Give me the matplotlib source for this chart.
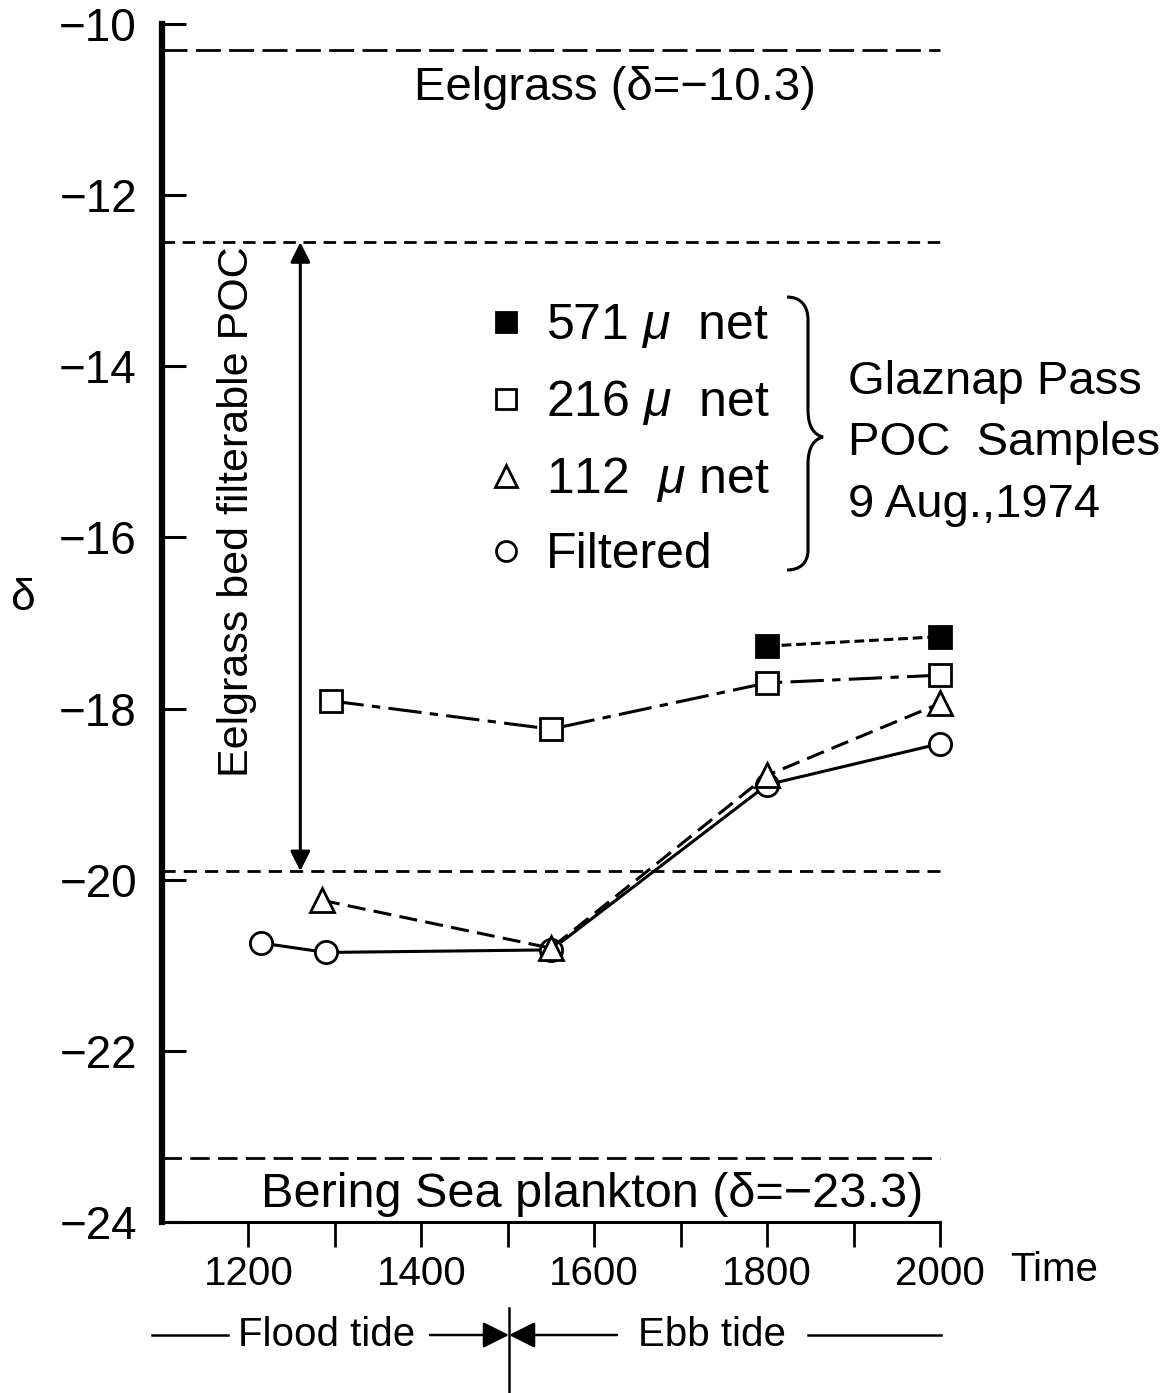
import matplotlib
matplotlib.use("Agg")
import matplotlib.pyplot as plt
from matplotlib.path import Path
from matplotlib.patches import PathPatch

plt.rcParams['font.family'] = ['Liberation Sans', 'DejaVu Sans']
plt.rcParams['mathtext.fontset'] = 'custom'
plt.rcParams['mathtext.rm'] = 'Liberation Sans'
plt.rcParams['mathtext.it'] = 'Liberation Sans:italic'
plt.rcParams['lines.scale_dashes'] = False

# ---- data (time of day, delta 13C) ----
time_571 = [1800, 2000]
delta_571 = [-17.27, -17.16]
time_216 = [1295, 1550, 1800, 2000]
delta_216 = [-17.91, -18.24, -17.70, -17.61]
time_112 = [1285, 1550, 1800, 2000]
delta_112 = [-20.24, -20.80, -18.78, -17.94]
time_filt = [1215, 1290, 1550, 1800, 2000]
delta_filt = [-20.74, -20.85, -20.82, -18.89, -18.41]

ref_levels = [-10.3, -12.55, -19.9, -23.25]
x_ticks = list(range(1200, 2001, 100))
x_labels = ['1200', '', '1400', '', '1600', '', '1800', '', '2000']
y_ticks = [-10, -12, -14, -16, -18, -20, -22, -24]

W, H = 1176, 1393
fig = plt.figure(figsize=(W / 100, H / 100), dpi=100)
ax = fig.add_axes([162 / W, 1 - 1222 / H, (940 - 162) / W, (1222 - 24) / H])
ax.set_xlim(1100, 2000)
ax.set_ylim(-24, -10)

# reference levels
ref_dashes = [(0, (18, 6)), (0, (9, 5.5)), (0, (9.5, 5.8)), (0, (14, 6))]
for lev, ls in zip(ref_levels, ref_dashes):
    ax.plot([1100, 2000], [lev, lev], color='black', lw=2.0, linestyle=ls, clip_on=False)

# series
ax.plot(time_filt, delta_filt, color='black', lw=2.2, marker='o', ms=16,
        mfc='white', mec='black', mew=2.0, label='Filtered', zorder=3, clip_on=False)
ax.plot(time_112, delta_112, color='black', lw=2.2, linestyle=(0, (13, 6)),
        marker='^', ms=17, mfc='white', mec='black', mew=2.0,
        label='112  $\\mu$ net', zorder=4, clip_on=False)
ax.plot(time_216, delta_216, color='black', lw=2.2, linestyle=(0, (24, 6, 6, 6)),
        marker='s', ms=16, mfc='white', mec='black', mew=2.0,
        label='216 $\\mu$  net', zorder=4, clip_on=False)
ax.plot(time_571, delta_571, color='black', lw=2.2, linestyle=(0, (7, 3.5)),
        marker='s', ms=16, mfc='black', mec='black', mew=2.0,
        label='571 $\\mu$  net', zorder=4, clip_on=False)

handles, labels = ax.get_legend_handles_labels()
order = [3, 2, 1, 0]
leg = ax.legend([handles[i] for i in order], [labels[i] for i in order],
                loc='upper left', bbox_to_anchor=(486 / W, 1 - 302 / H),
                bbox_transform=fig.transFigure, frameon=False, fontsize=36,
                handlelength=0.8, handletextpad=0.4, labelspacing=0.56,
                borderpad=0, borderaxespad=0, markerscale=0.9)
for h in leg.legend_handles:
    h.set_linestyle('none')

# annotations in data space
ax.annotate('', xy=(1260, -12.55), xytext=(1260, -19.9),
            arrowprops=dict(arrowstyle='<|-|>', color='black', lw=2.2,
                            mutation_scale=30, shrinkA=0, shrinkB=0))
ax.text(1187, -15.7, 'Eelgrass bed filterable POC', rotation=90, fontsize=31,
        ha='center', va='center')
ax.text(1624, -10.75, 'Eelgrass (δ=−10.3)', fontsize=34, ha='center', va='center')
ax.text(1597, -23.68, 'Bering Sea plankton (δ=−23.3)', fontsize=35,
        ha='center', va='center')

# axes styling
for s in ['top', 'right']:
    ax.spines[s].set_visible(False)
ax.spines['left'].set_linewidth(4.5)
ax.spines['bottom'].set_linewidth(2.2)
ax.set_yticks(y_ticks)
ax.set_yticklabels([f'−{abs(v)}' for v in y_ticks], fontsize=33)
ax.tick_params(axis='y', direction='in', length=17, width=2.2, pad=18)
ax.set_xticks(x_ticks)
ax.set_xticklabels(x_labels, fontsize=29, family=['Liberation Sans Narrow', 'Liberation Sans'])
ax.tick_params(axis='x', direction='out', length=18, width=2.0, pad=6)

# overlay in pixel space for the decorations outside the axes
ov = fig.add_axes([0, 0, 1, 1], facecolor='none')
ov.set_xlim(0, W)
ov.set_ylim(H, 0)
ov.axis('off')

ov.text(23, 598, 'δ', fontsize=32, ha='center', va='center')
ov.text(1010, 1270, 'Time', fontsize=29, ha='left', va='center',
        family=['Liberation Sans Narrow', 'Liberation Sans'])

# legend group brace and caption
verts = [(787, 297), (800, 297), (808, 305), (808, 320),
         (808, 410),
         (808, 428), (815, 435), (823, 437),
         (815, 439), (808, 446), (808, 464),
         (808, 550),
         (808, 563), (800, 570), (787, 570)]
codes = [Path.MOVETO, Path.CURVE4, Path.CURVE4, Path.CURVE4,
         Path.LINETO,
         Path.CURVE4, Path.CURVE4, Path.CURVE4,
         Path.CURVE4, Path.CURVE4, Path.CURVE4,
         Path.LINETO,
         Path.CURVE4, Path.CURVE4, Path.CURVE4]
ov.add_patch(PathPatch(Path(verts, codes), fill=False, lw=2.2, color='black'))
ov.text(848, 382, 'Glaznap Pass', fontsize=34, ha='left', va='center')
ov.text(848, 443, 'POC  Samples', fontsize=34, ha='left', va='center')
ov.text(848, 505, '9 Aug.,1974', fontsize=34, ha='left', va='center')

# flood / ebb tide bar
yb = 1335
ov.plot([152, 228], [yb, yb], color='black', lw=1.8)
ov.text(238, yb, 'Flood tide', fontsize=29, ha='left', va='center')
ov.annotate('', xy=(509, yb), xytext=(430, yb),
            arrowprops=dict(arrowstyle='-|>', color='black', lw=1.8,
                            mutation_scale=40, shrinkA=0, shrinkB=0))
ov.annotate('', xy=(509, yb), xytext=(617, yb),
            arrowprops=dict(arrowstyle='-|>', color='black', lw=1.8,
                            mutation_scale=40, shrinkA=0, shrinkB=0))
ov.plot([509, 509], [1308, 1393], color='black', lw=1.8)
ov.text(638, yb, 'Ebb tide', fontsize=29, ha='left', va='center')
ov.plot([808, 941], [yb, yb], color='black', lw=1.8)

fig.savefig('out.png', dpi=100, facecolor='white')
